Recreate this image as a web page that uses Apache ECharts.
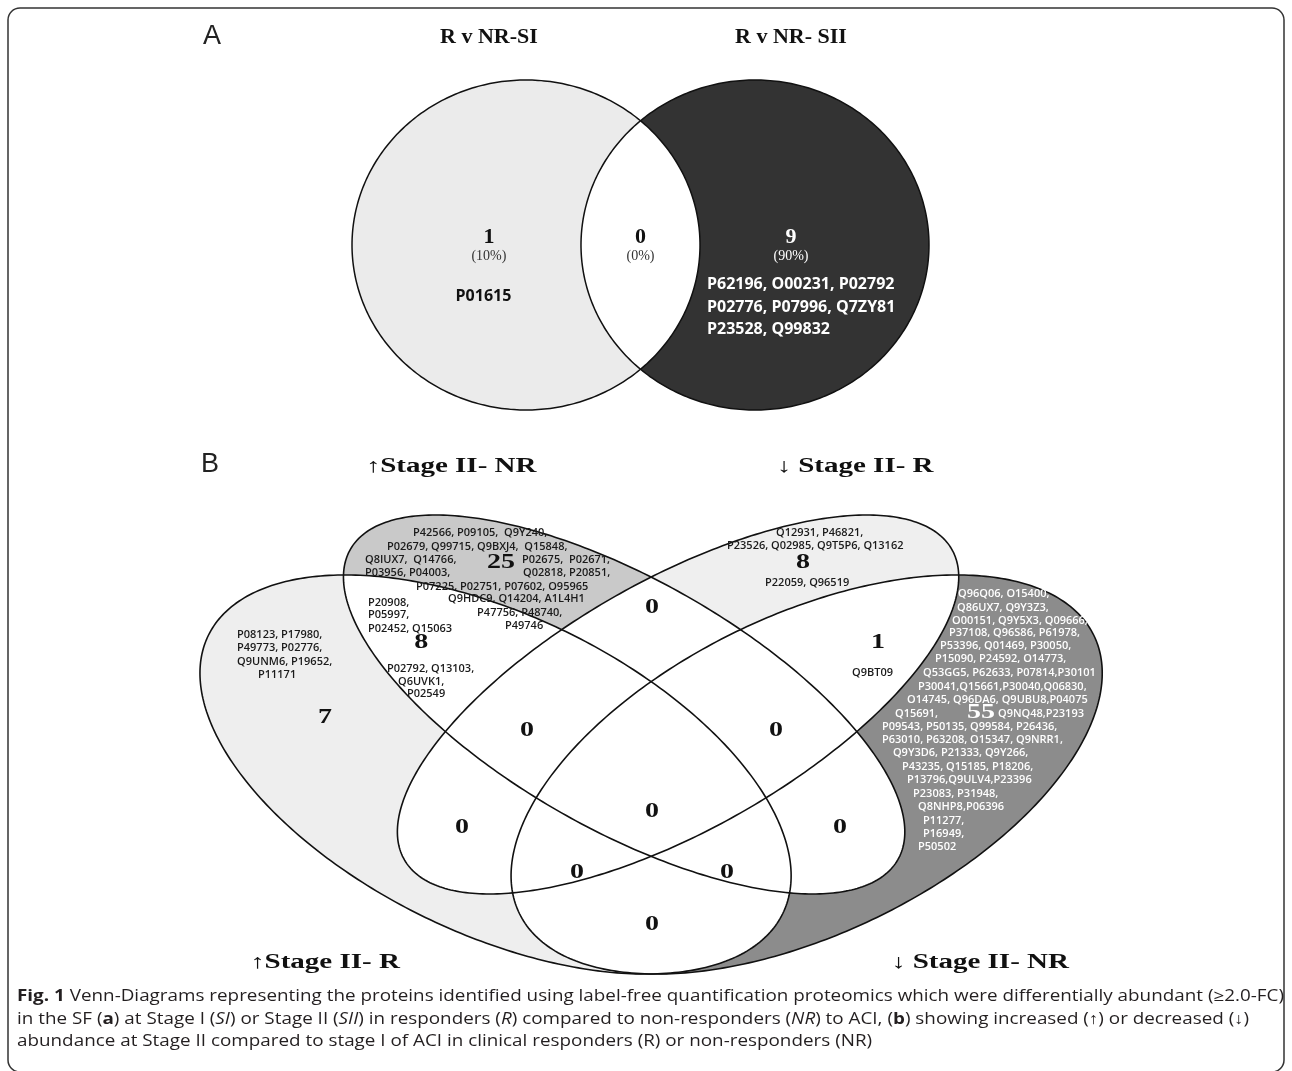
<!DOCTYPE html>
<html>
<head>
<meta charset="utf-8">
<script src="https://cdn.jsdelivr.net/npm/echarts@6/dist/echarts.min.js"></script>
<style>
  html, body { margin: 0; padding: 0; background: #ffffff; }
  #chart { width: 1292px; height: 1071px; }
</style>
</head>
<body>
<div id="chart"></div>
<script>
// ---------------- Panel A: R v NR at Stage I / Stage II ----------------
const setNamesA = ['R v NR-SI', 'R v NR- SII'];
const regionKeysA = ['SI', 'SI&SII', 'SII'];
const countsA = [1, 0, 9];
const proteinsA_SI = ['P01615'];
const proteinsA_SII = ['P62196, O00231, P02792', 'P02776, P07996, Q7ZY81', 'P23528, Q99832'];

// ---------------- Panel B: Stage II vs Stage I, R and NR ----------------
const setNamesB = ['\u2191Stage II- R', '\u2191Stage II- NR', '\u2193 Stage II- R', '\u2193 Stage II- NR'];
// A = up R, B = up NR, C = down R, D = down NR
const regionKeysB = ['A', 'B', 'C', 'D', 'AB', 'CD', 'BC', 'ABC', 'BCD', 'AC', 'ABCD', 'BD', 'ACD', 'ABD', 'AD'];
const countsB = [7, 25, 8, 55, 8, 1, 0, 0, 0, 0, 0, 0, 0, 0, 0];

const proteinsB_A = ['P08123, P17980,', 'P49773, P02776,', 'Q9UNM6, P19652,', 'P11171'];
const proteinsB_B = [
  'P42566, P09105,  Q9Y240,',
  'P02679, Q99715, Q9BXJ4,  Q15848,',
  'Q8IUX7,  Q14766,', 'P02675,  P02671,',
  'P03956, P04003,', 'Q02818, P20851,',
  'P07225, P02751, P07602, O95965',
  'Q9HDC9, Q14204, A1L4H1',
  'P47756, P48740,',
  'P49746'
];
const proteinsB_AB = ['P20908,', 'P05997,', 'P02452, Q15063', 'P02792, Q13103,', 'Q6UVK1,', 'P02549'];
const proteinsB_C = ['Q12931, P46821,', 'P23526, Q02985, Q9T5P6, Q13162', 'P22059, Q96519'];
const proteinsB_CD = ['Q9BT09'];
const proteinsB_D = [
  'Q96Q06, O15400,', 'Q86UX7, Q9Y3Z3,', 'O00151, Q9Y5X3, Q09666,', 'P37108, Q96S86, P61978,',
  'P53396, Q01469, P30050,', 'P15090, P24592, O14773,', 'Q53GG5, P62633, P07814,P30101',
  'P30041,Q15661,P30040,Q06830,', 'O14745, Q96DA6, Q9UBU8,P04075', 'Q15691,', 'Q9NQ48,P23193',
  'P09543, P50135, Q99584, P26436,', 'P63010, P63208, O15347, Q9NRR1,', 'Q9Y3D6, P21333, Q9Y266,',
  'P43235, Q15185, P18206,', 'P13796,Q9ULV4,P23396', 'P23083, P31948,', 'Q8NHP8,P06396',
  'P11277,', 'P16949,', 'P50502'
];

// ---------------- layout (diagram units) ----------------
// Panel A: two overlapping ovals, unit radius
const ellipsesA = [
  { cx: -0.658, cy: 0, a: 1, b: 1, rot: 0 },
  { cx: 0.658, cy: 0, a: 1, b: 1, rot: 0 }
];
const fillsA = ['#ebebeb', '#333333'];
const titlePosA = [[-0.871, 1.261], [0.865, 1.261]];
const countPosA = [[-0.871, 0.048], [0, 0.048], [0.865, 0.048]];
const pctDropA = 0.115;
const listPosA_SI = [[-1.063, -0.309]];
const listPosA_SII = [[0.382, -0.242], [0.382, -0.376], [0.382, -0.509]];

// Panel B: four-ellipse layout on the unit square
const ellipsesB = [
  { cx: 0.350, cy: 0.47, a: 0.35, b: 0.200, rot: -45 },
  { cx: 0.474, cy: 0.57, a: 0.35, b: 0.155, rot: -45 },
  { cx: 0.526, cy: 0.57, a: 0.35, b: 0.155, rot: 45 },
  { cx: 0.650, cy: 0.47, a: 0.35, b: 0.200, rot: 45 }
];
const fillsB = ['#eeeeee', '#c9c9c9', '#efefef', '#8c8c8c'];
const titlePosB = [[0.1855, 0.2007], [0.3071, 0.9093], [0.6966, 0.9093], [0.8171, 0.2007]];
const countPosB = [
  [0.1855, 0.5507], [0.3553, 0.7721], [0.6465, 0.7721], [0.8181, 0.5579],
  [0.2784, 0.6579], [0.7188, 0.6579], [0.5008, 0.7079], [0.3803, 0.5321],
  [0.6205, 0.5321], [0.3176, 0.3936], [0.5008, 0.4164], [0.6822, 0.3936],
  [0.4286, 0.3293], [0.5732, 0.3293], [0.5008, 0.2550]
];
const listPosB_A = [[0.1007, 0.6693], [0.1007, 0.6507], [0.1007, 0.6307], [0.1209, 0.6121]];
const listPosB_B = [
  [0.2704, 0.8150], [0.2453, 0.7950], [0.2241, 0.7764], [0.3755, 0.7764],
  [0.2241, 0.7579], [0.3765, 0.7579], [0.2733, 0.7379], [0.3042, 0.7207],
  [0.3322, 0.7007], [0.3591, 0.6821]
];
const listPosB_AB = [[0.2270, 0.7150], [0.2270, 0.6979], [0.2270, 0.6779], [0.2453, 0.6207], [0.2559, 0.6021], [0.2646, 0.5850]];
const listPosB_C = [[0.6205, 0.8150], [0.5732, 0.7964], [0.6099, 0.7436]];
const listPosB_CD = [[0.6938, 0.6150]];
const listPosB_D = [
  [0.7960, 0.7279], [0.7950, 0.7079], [0.7902, 0.6893], [0.7873, 0.6721], [0.7786, 0.6536],
  [0.7738, 0.6350], [0.7622, 0.6150], [0.7574, 0.5950], [0.7468, 0.5764], [0.7352, 0.5564],
  [0.8345, 0.5564], [0.7226, 0.5379], [0.7226, 0.5193], [0.7332, 0.5007], [0.7419, 0.4807],
  [0.7468, 0.4621], [0.7526, 0.4421], [0.7574, 0.4236], [0.7622, 0.4036], [0.7622, 0.3850],
  [0.7574, 0.3664]
];

// ---------------- geometry helpers ----------------
function ellipsePoints(e, n) {
  const th = e.rot * Math.PI / 180, c = Math.cos(th), s = Math.sin(th);
  const pts = [];
  for (let i = 0; i < n; i++) {
    const t = 2 * Math.PI * i / n;
    const ex = e.a * Math.cos(t), ey = e.b * Math.sin(t);
    pts.push([e.cx + ex * c - ey * s, e.cy + ex * s + ey * c]);
  }
  return pts;
}
function side(a, b, p) {
  return (b[0] - a[0]) * (p[1] - a[1]) - (b[1] - a[1]) * (p[0] - a[0]);
}
function cut(a, b, p, q) {
  const d1 = side(a, b, p), d2 = side(a, b, q);
  const t = d1 / (d1 - d2);
  return [p[0] + t * (q[0] - p[0]), p[1] + t * (q[1] - p[1])];
}
// Sutherland-Hodgman: subject polygon clipped by a convex CCW polygon
function clipPolygon(subject, clip) {
  let out = subject;
  for (let i = 0; i < clip.length && out.length; i++) {
    const a = clip[i], b = clip[(i + 1) % clip.length];
    const input = out; out = [];
    for (let j = 0; j < input.length; j++) {
      const p = input[j], q = input[(j + 1) % input.length];
      const pin = side(a, b, p) >= 0, qin = side(a, b, q) >= 0;
      if (pin) { out.push(p); if (!qin) out.push(cut(a, b, p, q)); }
      else if (qin) out.push(cut(a, b, p, q));
    }
  }
  return out;
}
function overlaps(shapes) {
  const polys = [];
  for (let i = 0; i < shapes.length; i++)
    for (let j = i + 1; j < shapes.length; j++) {
      const poly = clipPolygon(shapes[i], shapes[j]);
      if (poly.length > 2) polys.push(poly);
    }
  return polys;
}

const shapesA = ellipsesA.map(e => ellipsePoints(e, 360));
const shapesB = ellipsesB.map(e => ellipsePoints(e, 360));
const overlapA = overlaps(shapesA);
const overlapB = overlaps(shapesB);

// ---------------- text items ----------------
const SERIF = '"Liberation Serif", "Times New Roman", serif';
const SANS = '"Open Sans", "Liberation Sans", sans-serif';
function pushLines(arr, lines, pos, font, color) {
  lines.forEach((t, i) => arr.push({ pos: pos[i], text: t, font, color, align: 'left', sx: 1 }));
}

const total = countsA.reduce((s, v) => s + v, 0);
const labelsA = [];
setNamesA.forEach((t, i) => labelsA.push({ pos: titlePosA[i], text: t, font: 'bold 22px ' + SERIF, color: '#111', align: 'center', sx: 1 }));
countsA.forEach((v, i) => {
  const col = i === 2 ? '#ffffff' : '#111111';
  const p = countPosA[i];
  labelsA.push({ pos: p, text: String(v), font: 'bold 22px ' + SERIF, color: col, align: 'center', sx: 1 });
  labelsA.push({ pos: [p[0], p[1] - pctDropA], text: '(' + Math.round(v / total * 100) + '%)', font: '14px ' + SERIF, color: i === 2 ? '#ffffff' : '#333333', align: 'center', sx: 1 });
});
pushLines(labelsA, proteinsA_SI, listPosA_SI, 'bold 16px ' + SANS, '#111');
pushLines(labelsA, proteinsA_SII, listPosA_SII, 'bold 16px ' + SANS, '#ffffff');

const labelsB = [];
setNamesB.forEach((t, i) => labelsB.push({ pos: titlePosB[i], text: t, font: 'bold 20px ' + SERIF, color: '#111', align: 'center', sx: 1.45 }));
countsB.forEach((v, i) => labelsB.push({
  pos: countPosB[i], text: String(v), font: 'bold 20px ' + SERIF,
  color: regionKeysB[i] === 'D' ? '#ffffff' : '#111111', align: 'center', sx: 1.4
}));
const idFontB = '600 11px ' + SANS;
pushLines(labelsB, proteinsB_A, listPosB_A, idFontB, '#1a1a1a');
pushLines(labelsB, proteinsB_B, listPosB_B, idFontB, '#1a1a1a');
pushLines(labelsB, proteinsB_AB, listPosB_AB, idFontB, '#1a1a1a');
pushLines(labelsB, proteinsB_C, listPosB_C, idFontB, '#1a1a1a');
pushLines(labelsB, proteinsB_CD, listPosB_CD, idFontB, '#1a1a1a');
pushLines(labelsB, proteinsB_D, listPosB_D, idFontB, '#ffffff');

// ---------------- series builders ----------------
function polySeries(name, polys, gi, styleFn, z) {
  return {
    type: 'custom', name, coordinateSystem: 'cartesian2d', xAxisIndex: gi, yAxisIndex: gi,
    silent: true, z, dimensions: ['u', 'v'], encode: { x: 0, y: 1 },
    data: polys.map(p => p[0]),
    renderItem: (params, api) => ({
      type: 'polygon',
      shape: { points: polys[params.dataIndex].map(pt => api.coord(pt)) },
      style: styleFn(params.dataIndex)
    })
  };
}
function textSeries(name, labels, gi, z) {
  return {
    type: 'custom', name, coordinateSystem: 'cartesian2d', xAxisIndex: gi, yAxisIndex: gi,
    silent: true, z, dimensions: ['u', 'v'], encode: { x: 0, y: 1 },
    data: labels.map(l => l.pos),
    renderItem: (params, api) => {
      const l = labels[params.dataIndex];
      const p = api.coord(l.pos);
      return {
        type: 'text', x: p[0], y: p[1], scaleX: l.sx,
        style: {
          x: 0, y: 0, text: l.text, font: l.font, fill: l.color,
          align: l.align, textAlign: l.align, verticalAlign: 'middle', textVerticalAlign: 'middle'
        }
      };
    }
  };
}

const chart = echarts.init(document.getElementById('chart'), null, { renderer: 'canvas' });
const capFont = { fontFamily: '"Open Sans", "Liberation Sans", sans-serif', fontSize: 15.5, color: '#231f20' };
const capRich = {
  b: Object.assign({}, capFont, { fontWeight: 'bold' }),
  i: Object.assign({}, capFont, { fontStyle: 'italic' })
};
function capLine(text, y) {
  return {
    type: 'text', x: 17, y, scaleX: 1.216, silent: true,
    style: { text, verticalAlign: 'middle', rich: capRich,
      fontFamily: capFont.fontFamily, fontSize: capFont.fontSize, fill: capFont.color }
  };
}

chart.setOption({
  animation: false,
  backgroundColor: '#ffffff',
  grid: [
    { left: 292.5, top: 14, width: 696, height: 429, containLabel: false },
    { left: 132.6, top: 403.5, width: 1037, height: 630, containLabel: false }
  ],
  xAxis: [
    { gridIndex: 0, type: 'value', min: -2, max: 2, show: false },
    { gridIndex: 1, type: 'value', min: 0, max: 1, show: false }
  ],
  yAxis: [
    { gridIndex: 0, type: 'value', min: -1.2, max: 1.4, show: false },
    { gridIndex: 1, type: 'value', min: 0.1, max: 1.0, show: false }
  ],
  graphic: [
    { type: 'rect', silent: true, shape: { x: 8, y: 8, width: 1276, height: 1064, r: 12 },
      style: { fill: 'none', stroke: '#333333', lineWidth: 1.5 } },
    { type: 'text', x: 212, y: 37, silent: true,
      style: { text: 'A', fontFamily: '"Liberation Sans", sans-serif', fontSize: 27, fill: '#222', align: 'center', verticalAlign: 'middle' } },
    { type: 'text', x: 210, y: 465, silent: true,
      style: { text: 'B', fontFamily: '"Liberation Sans", sans-serif', fontSize: 27, fill: '#222', align: 'center', verticalAlign: 'middle' } },
    capLine('{b|Fig. 1} Venn-Diagrams representing the proteins identified using label-free quantification proteomics which were differentially abundant (\u22652.0-FC)', 997),
    capLine('in the SF ({b|a}) at Stage I ({i|SI}) or Stage II ({i|SII}) in responders ({i|R}) compared to non-responders ({i|NR}) to ACI, ({b|b}) showing increased (\u2191) or decreased (\u2193)', 1020),
    capLine('abundance at Stage II compared to stage I of ACI in clinical responders (R) or non-responders (NR)', 1042)
  ],
  series: [
    polySeries('setsA', shapesA, 0, i => ({ fill: fillsA[i] }), 1),
    polySeries('overlapA', overlapA, 0, () => ({ fill: '#ffffff' }), 2),
    polySeries('outlineA', shapesA, 0, () => ({ fill: 'none', stroke: '#111111', lineWidth: 1.5 }), 3),
    textSeries('labelsA', labelsA, 0, 4),
    polySeries('setsB', shapesB, 1, i => ({ fill: fillsB[i] }), 1),
    polySeries('overlapB', overlapB, 1, () => ({ fill: '#ffffff' }), 2),
    polySeries('outlineB', shapesB, 1, () => ({ fill: 'none', stroke: '#111111', lineWidth: 1.6 }), 3),
    textSeries('labelsB', labelsB, 1, 4)
  ]
});
</script>
</body>
</html>
